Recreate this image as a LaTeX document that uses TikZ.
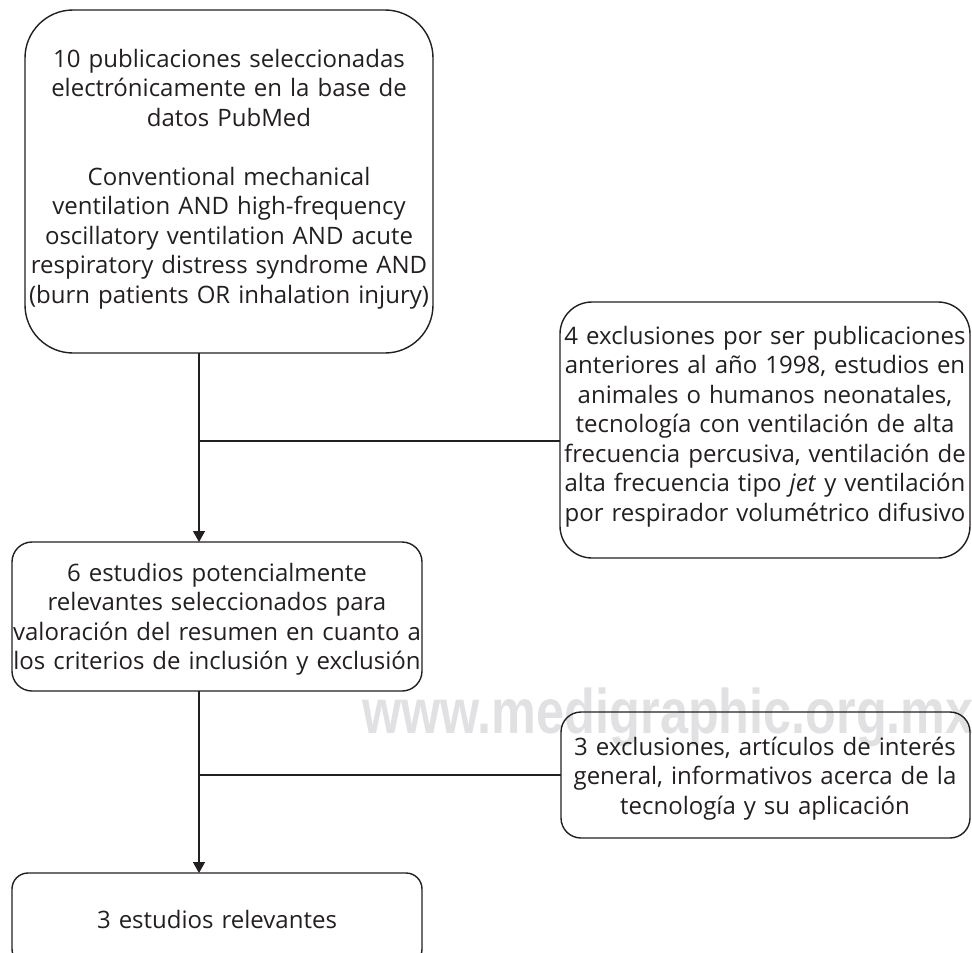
\documentclass[tikz,border=0pt]{standalone}
\usepackage{fontspec}
\setmainfont{Open Sans}
\newfontfamily\wmfont{Liberation Sans}
\usetikzlibrary{arrows.meta}
\definecolor{ink}{RGB}{35,31,32}
\definecolor{wmgray}{RGB}{225,225,228}
\tikzset{
  box/.style={draw=ink, line width=1.4pt, rectangle, inner sep=0pt, outer sep=0pt},
  txt/.style={text=ink, anchor=base, text width=520pt, align=center, inner sep=0pt,
              font=\fontsize{24}{29.5}\selectfont},
  conn/.style={draw=ink, line width=1.3pt},
  arr/.style={conn, -{Triangle[length=11pt,width=12pt]}},
  wmark/.style={text=wmgray, anchor=base west, inner sep=0pt, text depth=0pt,
              font=\wmfont\bfseries\fontsize{63}{70}\selectfont}
}
\begin{document}
\begin{tikzpicture}[x=1pt,y=-1pt]
\useasboundingbox (0,0) rectangle (972,953);
% watermark
\node[wmark] (wm) at (362,733) {\scalebox{0.8}[1]{www.medigraphic.org.mx}};
% boxes
\node[box, rounded corners=48pt, minimum width=408pt, minimum height=343pt] (b1) at (229,181.5) {};
\node[box, rounded corners=32pt, minimum width=410pt, minimum height=256pt] (b4) at (765,430) {};
\node[box, rounded corners=20pt, minimum width=410pt, minimum height=149pt] (b2) at (217,616.5) {};
\node[box, rounded corners=20pt, minimum width=409pt, minimum height=126pt] (b5) at (765.5,775) {};
\node[box, rounded corners=16pt, minimum width=410pt, minimum height=92pt] (b3) at (217,919) {};
% texts
\node[txt] (t1) at (229,67) {10 publicaciones seleccionadas\\ electrónicamente en la base de\\ datos PubMed\\ ~\\ Conventional mechanical\\ ventilation AND high-frequency\\ oscillatory ventilation AND acute\\ respiratory distress syndrome AND\\ (burn patients OR inhalation injury)};
\node[txt] (t4) at (765,344) {4 exclusiones por ser publicaciones\\ anteriores al año 1998, estudios en\\ animales o humanos neonatales,\\ tecnología con ventilación de alta\\ frecuencia percusiva, ventilación de\\ alta frecuencia tipo \textit{jet} y ventilación\\ por respirador volumétrico difusivo};
\node[txt] (t2) at (217,581) {6 estudios potencialmente\\ relevantes seleccionados para\\ valoración del resumen en cuanto a\\ los criterios de inclusión y exclusión};
\node[txt] (t5) at (765,755) {3 exclusiones, artículos de interés\\ general, informativos acerca de la\\ tecnología y su aplicación};
\node[txt] (t3) at (217,928) {3 estudios relevantes};
% connectors
\coordinate (j1) at (199,441);
\coordinate (j2) at (199,775);
\draw[arr] (b1.south -| j1) -- (b2.north -| j1);
\draw[conn] (j1) -- (j1 -| b4.west);
\draw[arr] (b2.south -| j2) -- (b3.north -| j2);
\draw[conn] (j2) -- (j2 -| b5.west);
\end{tikzpicture}
\end{document}
